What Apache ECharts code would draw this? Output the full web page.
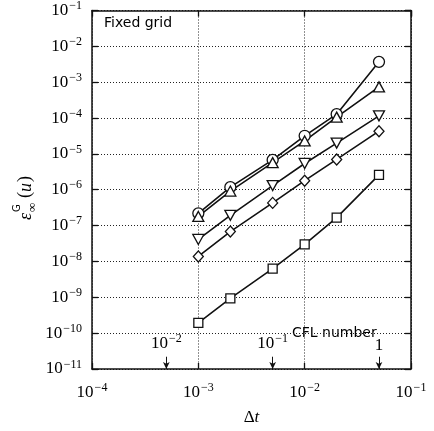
<!DOCTYPE html>
<html>
<head>
<meta charset="utf-8">
<script src="https://cdn.jsdelivr.net/npm/echarts@6/dist/echarts.min.js"></script>
<style>
  html, body { margin: 0; padding: 0; background: #fff; }
  #chart { width: 434px; height: 431px; }
</style>
</head>
<body>
<div id="chart"></div>
<script>
// time steps (Δt) and max-norm errors per marker
const dt = [1e-3, 2e-3, 5e-3, 1e-2, 2e-2, 5e-2]
const circleErr = [2.2e-7, 1.18e-6, 6.8e-6, 3.2e-5, 1.28e-4, 3.7e-3]
const triUpErr = [1.8e-7, 9.2e-7, 5.7e-6, 2.3e-5, 1.06e-4, 7.4e-4]
const triDownErr = [4.1e-8, 1.94e-7, 1.31e-6, 5.4e-6, 2.0e-5, 1.15e-4]
const diamondErr = [1.38e-8, 6.8e-8, 4.3e-7, 1.79e-6, 7.0e-6, 4.3e-5]
const squareErr = [1.94e-10, 9.3e-10, 6.3e-9, 3.0e-8, 1.67e-7, 2.6e-6]

// CFL number markers along the bottom axis
const cflDt = [5e-4, 5e-3, 5e-2]
const cflLabels = ['{b|10}{s|−2}', '{b|10}{s|−1}', '{b|1}']

const serif = 'Liberation Serif'

const rich = {
  b: { fontFamily: serif, fontSize: 17, color: '#000' },
  s: { fontFamily: serif, fontSize: 12, color: '#000', padding: [0, 0, 9, 1] },
}

function powLabel(v) {
  const e = Math.round(Math.log10(v))
  if (e === 0) return '{b|1}'
  return '{b|10}{s|' + (e < 0 ? '−' + (-e) : e) + '}'
}

const pts = (ys) => dt.map((x, i) => [x, ys[i]])

function markerSeries(name, ys, symbol, size, rotate) {
  return {
    name,
    type: 'line',
    data: pts(ys),
    symbol,
    symbolSize: size,
    symbolRotate: rotate || 0,
    showAllSymbol: true,
    lineStyle: { color: '#111', width: 1.6 },
    itemStyle: { color: '#fff', borderColor: '#111', borderWidth: 1.3 },
    z: 3,
  }
}

const chart = echarts.init(document.getElementById('chart'))

const frameAxis = {
  axisLine: { show: true, lineStyle: { color: '#111', width: 1.5 } },
  axisTick: { show: true, inside: true, length: 6, lineStyle: { color: '#111', width: 1.3 } },
}

chart.setOption({
  animation: false,
  grid: { left: 92, right: 23, top: 8, bottom: 56 },
  xAxis: [
    {
      type: 'log',
      logBase: 10,
      min: 1e-4,
      max: 1e-1,
      ...frameAxis,
      axisLabel: { formatter: powLabel, rich, margin: 13 },
      splitLine: { show: true, lineStyle: { color: '#222', type: [1, 2], width: 1 } },
      name: '{d|Δ}{t|t}',
      nameLocation: 'middle',
      nameGap: 40,
      nameTextStyle: {
        rich: {
          d: { fontFamily: serif, fontSize: 17, color: '#000' },
          t: { fontFamily: serif, fontStyle: 'italic', fontSize: 17, color: '#000' },
        },
      },
    },
    {
      type: 'log',
      logBase: 10,
      min: 1e-4,
      max: 1e-1,
      position: 'top',
      ...frameAxis,
      axisLabel: { show: false },
      splitLine: { show: false },
    },
  ],
  yAxis: [
    {
      type: 'log',
      logBase: 10,
      min: 1e-11,
      max: 1e-1,
      interval: 1,
      ...frameAxis,
      axisLabel: { formatter: powLabel, rich, margin: 10 },
      splitLine: { show: true, lineStyle: { color: '#222', type: [1, 2], width: 1 } },
    },
    {
      type: 'log',
      logBase: 10,
      min: 1e-11,
      max: 1e-1,
      interval: 1,
      position: 'right',
      ...frameAxis,
      axisLabel: { show: false },
      splitLine: { show: false },
    },
  ],
  series: [
    markerSeries('circle', circleErr, 'circle', 11),
    markerSeries('triUp', triUpErr, 'triangle', [11, 10]),
    markerSeries('triDown', triDownErr, 'triangle', [11, 10], 180),
    markerSeries('diamond', diamondErr, 'diamond', [10, 11]),
    markerSeries('square', squareErr, 'rect', 9),
    {
      name: 'cfl',
      type: 'line',
      data: [],
      markLine: {
        silent: true,
        symbol: ['none', 'arrow'],
        symbolSize: [5, 7],
        lineStyle: { color: '#111', width: 1, type: 'solid' },
        label: {
          show: true,
          position: 'start',
          distance: 3,
          formatter: (p) => p.data.lbl,
          rich,
        },
        data: cflDt.map((x, i) => [
          { coord: [x, 2.2e-11], lbl: cflLabels[i] },
          { coord: [x, 1e-11] },
        ]),
      },
    },
  ],
  graphic: [
    {
      type: 'text',
      left: 104,
      top: 16,
      style: { text: 'Fixed grid', font: '14px "DejaVu Sans"', fill: '#000' },
    },
    {
      type: 'text',
      left: 292,
      top: 326,
      style: { text: 'CFL number', font: '14px "DejaVu Sans"', fill: '#000' },
    },
    {
      type: 'group',
      x: 26,
      y: 192,
      rotation: Math.PI / 2,
      children: [
        { type: 'text', x: -28, y: -9, style: { text: 'ε', font: 'italic 18px "Liberation Serif"', fill: '#000' } },
        { type: 'text', x: -20, y: -14, style: { text: 'G', font: '10px "DejaVu Sans"', fill: '#000' } },
        { type: 'text', x: -20, y: 0, style: { text: '∞', font: '13px "Liberation Serif"', fill: '#000' } },
        { type: 'text', x: -6, y: -10, style: { text: '(', font: '18px "Liberation Serif"', fill: '#000' } },
        { type: 'text', x: 0, y: -9, style: { text: 'u', font: 'italic 18px "Liberation Serif"', fill: '#000' } },
        { type: 'text', x: 10, y: -10, style: { text: ')', font: '18px "Liberation Serif"', fill: '#000' } },
      ],
    },
  ],
})
</script>
</body>
</html>
